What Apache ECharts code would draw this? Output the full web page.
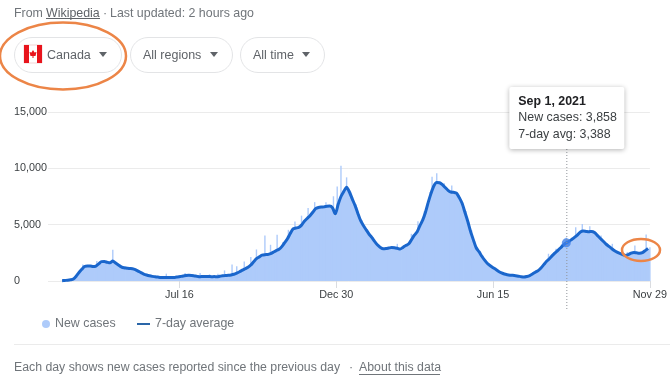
<!DOCTYPE html>
<html>
<head>
<meta charset="utf-8">
<title>New cases, Canada</title>
<script src="https://cdn.jsdelivr.net/npm/echarts@6/dist/echarts.min.js"></script>
<style>
	html, body { margin: 0; padding: 0; background: #fff; }
	#chart { width: 670px; height: 379px; }
</style>
</head>
<body>
<div id="chart"></div>
<script>
// one reading every 3 days, from Mar 13 2020
const firstDay = [2020, 2, 13];
const stepDays = 3;

const newCases = [
	20, 40, 60, 100, 170, 400, 720, 1000, 1400, 1380,
	1300, 1320, 1400, 1560, 1650, 1760, 1620, 1560, 1700, 1560,
	1420, 1240, 1150, 1180, 1100, 1080, 1000, 900, 760, 600,
	520, 470, 420, 360, 340, 330, 310, 300, 300, 310,
	330, 340, 390, 460, 480, 520, 500, 430, 420, 360,
	410, 400, 380, 420, 400, 370, 440, 450, 500, 520,
	520, 620, 680, 850, 940, 1120, 1180, 1450, 1680, 2000,
	2100, 2350, 2300, 2400, 2380, 2600, 2650, 2900, 3000, 3450,
	3700, 4300, 4550, 4750, 4700, 5000, 5250, 5600, 5750, 6150,
	6350, 6600, 6500, 6620, 6600, 6700, 6400, 5800, 6900, 7400,
	8000, 8250, 7950, 7200, 6800, 5900, 5400, 4800, 4600, 4050,
	3900, 3400, 3250, 2900, 2850, 2800, 3000, 2950, 3000, 2850,
	2800, 3050, 3100, 3350, 3600, 4100, 4300, 5000, 5300, 6200,
	6900, 7900, 8400, 8800, 8650, 8600, 8200, 8100, 7800, 7950,
	7700, 7450, 6800, 6200, 5200, 4500, 3550, 3000, 2500, 2250,
	1800, 1600, 1300, 1200, 1000, 880, 700, 640, 540, 530,
	480, 490, 420, 390, 340, 420, 460, 650, 760, 950,
	1120, 1500, 1700, 2050, 2200, 2550, 2680, 3000, 3150, 3450,
	3480, 3750, 3850, 4150, 4300, 4480, 4350, 4420, 4350, 4320,
	4000, 3850, 3500, 3350, 3050, 2950, 2650, 2600, 2400, 2380,
	2230, 2400, 2450, 2580, 2450, 2520, 2480, 2750, 2850
];

const sevenDayAvg = [
	30, 50, 70, 110, 180, 430, 760, 1040, 1290, 1340,
	1340, 1290, 1330, 1520, 1720, 1730, 1660, 1610, 1770, 1600,
	1430, 1260, 1170, 1140, 1110, 1090, 1010, 880, 740, 620,
	530, 460, 410, 380, 350, 320, 300, 320, 310, 300,
	320, 360, 400, 440, 490, 510, 490, 450, 410, 380,
	400, 390, 400, 380, 390, 380, 420, 460, 490, 500,
	540, 600, 700, 820, 960, 1090, 1220, 1420, 1710, 1980,
	2140, 2290, 2340, 2350, 2420, 2560, 2700, 2810, 3050, 3400,
	3750, 4220, 4630, 4700, 4760, 4960, 5300, 5550, 5800, 6100,
	6420, 6520, 6560, 6580, 6640, 6660, 6500, 5950, 6800, 7500,
	7950, 8320, 7900, 7290, 6700, 6000, 5350, 4900, 4520, 4150,
	3850, 3500, 3200, 2980, 2860, 2880, 2930, 2970, 2960, 2900,
	2830, 2980, 3150, 3280, 3650, 4050, 4340, 4900, 5400, 6100,
	7000, 7800, 8450, 8740, 8720, 8550, 8300, 8050, 7900, 7870,
	7800, 7400, 6900, 6100, 5300, 4400, 3650, 2950, 2600, 2200,
	1850, 1550, 1350, 1180, 1020, 850, 720, 620, 560, 520,
	500, 470, 430, 380, 350, 400, 480, 620, 780, 920,
	1150, 1450, 1750, 1980, 2250, 2500, 2720, 2950, 3200, 3388,
	3520, 3700, 3890, 4100, 4350, 4430, 4400, 4370, 4400, 4300,
	4050, 3800, 3550, 3300, 3100, 2900, 2700, 2560, 2450, 2350,
	2270, 2350, 2480, 2540, 2500, 2470, 2520, 2700, 2900
];

// single days that stick out of the bars, day number counted from firstDay
const spikeDays = [
	22, 37, 54, 111, 131, 147, 157, 166, 173, 181, 186, 194, 201, 207, 216, 222,
	229, 235, 241, 248, 255, 262, 269, 281, 289, 293, 297, 303, 314, 357, 372,
	379, 394, 399, 407, 415, 423, 518, 526, 532, 537, 547, 554, 562, 574, 586,
	602, 610, 622, 626
];
const spikeValues = [
	1470, 1770, 2770, 650, 700, 700, 590, 650, 940, 1470, 1300, 1740, 2120, 2800, 4040, 3215,
	4100, 3450, 4540, 5280, 5800, 6490, 7000, 7000, 7520, 8380, 10240, 9200, 6550, 3300, 4190,
	5310, 9260, 9560, 8670, 8470, 7580, 2420, 2860, 3300, 3858, 4780, 5070, 4870, 4040, 3300,
	2570, 3150, 4130, 3000
];

const yTicks = [0, 5000, 10000, 15000];
const xLabelDates = [[2020, 6, 16], [2020, 11, 30], [2021, 5, 15], [2021, 10, 29]];
const axisStart = [2020, 1, 27];
const monthNames = ['Jan', 'Feb', 'Mar', 'Apr', 'May', 'Jun', 'Jul', 'Aug', 'Sep', 'Oct', 'Nov', 'Dec'];

const hoverDay = [2021, 8, 1];
const hoverCases = 3858;
const hoverAvg = 3388;

const fontName = '"Liberation Sans", Arial, sans-serif';
const textFont = '12.4px ' + fontName;
const greyText = '#70757a';
const darkText = '#3c4043';
const orange = '#ec8547';

const toTime = d => new Date(d[0], d[1], d[2]).getTime();
const dayTime = n => new Date(firstDay[0], firstDay[1], firstDay[2] + n).getTime();
const xTicks = xLabelDates.map(toTime);

const chart = echarts.init(document.getElementById('chart'), null, { renderer: 'canvas' });

chart.setOption({
	animation: false,
	textStyle: { fontFamily: fontName },
	grid: { left: 48, right: 20, top: 112, bottom: 98 },
	legend: [
		{
			left: 37, top: 313, itemWidth: 8, itemHeight: 8,
			textStyle: { color: greyText, fontSize: 12.4, fontFamily: fontName },
			data: [{ name: 'New cases', icon: 'circle' }]
		},
		{
			left: 132, top: 313, itemWidth: 13, itemHeight: 8,
			textStyle: { color: greyText, fontSize: 12.4, fontFamily: fontName },
			// flat dash, the two specks keep the icon box 8 high
			data: [{
				name: '7-day average',
				icon: 'path://M0 0h.01v.01h-.01z M0 3h13v2h-13z M0 8h.01v-.01h-.01z',
				itemStyle: { color: '#2a66a8' }
			}]
		}
	],
	// value axes holding timestamps, the time axis does not take custom ticks
	xAxis: [0, 1].map(i => ({
		type: 'value',
		show: i == 0,
		min: toTime(axisStart),
		max: xTicks[3],
		axisLine: { show: false },
		splitLine: { show: false },
		axisTick: { show: true, customValues: xTicks, length: 7, lineStyle: { color: '#dadce0' } },
		axisLabel: {
			customValues: xTicks,
			margin: 9,
			color: darkText,
			fontSize: 10.8,
			hideOverlap: false,
			showMinLabel: true,
			showMaxLabel: true,
			formatter: v => {
				const d = new Date(v);
				return monthNames[d.getMonth()] + ' ' + d.getDate();
			}
		}
	})),
	yAxis: {
		type: 'value',
		min: yTicks[0],
		max: yTicks[3],
		interval: 5000,
		axisLine: { show: false },
		axisTick: { show: false },
		splitLine: { lineStyle: { color: '#ebebeb' } },
		axisLabel: {
			color: darkText,
			fontSize: 10.8,
			align: 'left',
			margin: 34,
			formatter: v => v.toLocaleString('en-US')
		}
	},
	series: [
		{
			name: 'New cases',
			type: 'bar',
			barWidth: 3.6,
			clip: false,
			itemStyle: { color: '#aecbfa' },
			data: newCases.map((v, i) => [dayTime(i * stepDays), v])
		},
		{
			name: 'New cases',
			type: 'bar',
			xAxisIndex: 1,
			barWidth: 1.4,
			clip: false,
			itemStyle: { color: '#aecbfa' },
			data: spikeDays.map((d, i) => [dayTime(d), spikeValues[i]])
		},
		{
			name: '7-day average',
			type: 'line',
			symbol: 'none',
			smooth: 0.25,
			clip: false,
			itemStyle: { color: '#1a66cc' },
			lineStyle: { color: '#1a66cc', width: 3 },
			data: sevenDayAvg.map((v, i) => [dayTime(i * stepDays), v])
		},
		{
			type: 'scatter',
			symbolSize: 9,
			itemStyle: { color: '#3f80e8' },
			z: 5,
			data: [[toTime(hoverDay), hoverAvg]]
		}
	]
});

// plain text helper for the graphic layer
function label(x, y, text, color, extra) {
	return {
		type: 'text',
		x: x,
		y: y,
		z: 20,
		style: Object.assign({
			text: text,
			fill: color,
			font: textFont,
			textVerticalAlign: 'middle'
		}, extra)
	};
}

function rule(x1, y1, x2, y2, color, width, dash) {
	return {
		type: 'line',
		z: 20,
		shape: { x1: x1, y1: y1, x2: x2, y2: y2 },
		style: { stroke: color, lineWidth: width || 1, lineDash: dash }
	};
}

// filter chip with its drop down arrow
function chip(x, width, text, textX) {
	const right = x + width - 22;
	return [
		{
			type: 'rect',
			z: 10,
			shape: { x: x + 0.5, y: 37.5, width: width, height: 35, r: 17.5 },
			style: { fill: '#fff', stroke: '#e3e4e6', lineWidth: 1 }
		},
		label(textX, 55.5, text, '#5f6368', { font: '12.5px ' + fontName }),
		{
			type: 'polygon',
			z: 20,
			shape: { points: [[right, 52], [right + 8, 52], [right + 4, 57]] },
			style: { fill: '#5f6368' }
		}
	];
}

const hoverX = chart.convertToPixel({ xAxisIndex: 0 }, toTime(hoverDay));
const boxX = hoverX - 57;

chart.setOption({
	graphic: [
		label(14, 13.5, 'From', greyText),
		label(46, 13.5, 'Wikipedia', '#5f6368'),
		rule(46, 18.5, 100, 18.5, '#5f6368'),
		label(103, 13.5, '·', greyText),
		label(110, 13.5, 'Last updated: 2 hours ago', greyText),

		...chip(14, 107, 'Canada', 47),
		...chip(130, 102, 'All regions', 143),
		...chip(240, 84, 'All time', 253),

		// flag
		{ type: 'rect', z: 20, shape: { x: 24, y: 45, width: 18, height: 18 }, style: { fill: '#fff', stroke: '#f3d5d5' } },
		{ type: 'rect', z: 21, shape: { x: 24, y: 45, width: 5, height: 18 }, style: { fill: '#e8141c' } },
		{ type: 'rect', z: 21, shape: { x: 37, y: 45, width: 5, height: 18 }, style: { fill: '#e8141c' } },
		{
			type: 'polygon',
			z: 21,
			shape: { points: [[33, 50], [34.5, 52.5], [36.5, 52], [35.5, 56], [33.5, 56], [33.5, 58], [32.5, 58], [32.5, 56], [30.5, 56], [29.5, 52], [31.5, 52.5]] },
			style: { fill: '#e8141c' }
		},

		// hover line and tooltip box
		rule(hoverX + 0.5, 149, hoverX + 0.5, 311, '#8f9499', 1, [1, 2]),
		{
			type: 'rect',
			z: 30,
			shape: { x: boxX, y: 87, width: 115, height: 62, r: 2 },
			style: { fill: '#fff', shadowBlur: 5, shadowOffsetY: 1, shadowColor: 'rgba(0,0,0,0.3)' }
		},
		Object.assign(label(boxX + 9, 102, 'Sep 1, 2021', '#202124', { font: 'bold 12.4px ' + fontName }), { z: 31 }),
		Object.assign(label(boxX + 9, 118, 'New cases: ' + hoverCases.toLocaleString('en-US'), darkText), { z: 31 }),
		Object.assign(label(boxX + 9, 135, '7-day avg: ' + hoverAvg.toLocaleString('en-US'), darkText), { z: 31 }),

		// orange hand drawn circles
		{
			type: 'ellipse',
			z: 40,
			shape: { cx: 63, cy: 56, rx: 63, ry: 33.5 },
			style: { fill: 'none', stroke: orange, lineWidth: 2.5 }
		},
		{
			type: 'ellipse',
			z: 40,
			shape: { cx: 641, cy: 250, rx: 19, ry: 11 },
			style: { fill: 'none', stroke: orange, lineWidth: 2.5 }
		},

		// footer
		rule(14, 344.5, 670, 344.5, '#ebebeb'),
		label(14, 368, 'Each day shows new cases reported since the previous day', greyText, { font: '12.3px ' + fontName }),
		label(349, 368, '·', greyText),
		label(359, 368, 'About this data', greyText, { font: '12.3px ' + fontName }),
		rule(359, 374.5, 440, 374.5, greyText)
	]
});
</script>
</body>
</html>
